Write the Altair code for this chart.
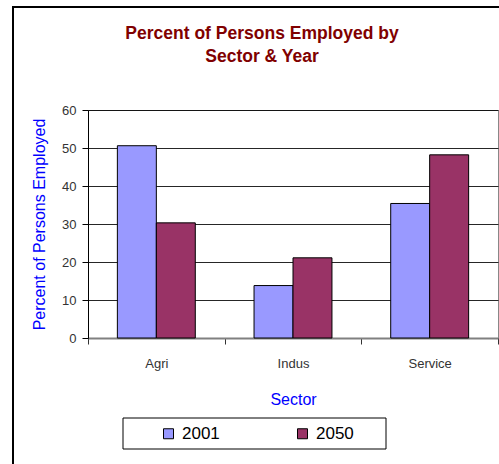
import altair as alt
import pandas as pd

sectors = ["Agri", "Indus", "Service"]
years = ["2001", "2050"]
pct_2001 = [50.6, 13.8, 35.4]
pct_2050 = [30.3, 21.1, 48.2]
colors = ["#9999FF", "#993366"]

rows = []
for s, a, b in zip(sectors, pct_2001, pct_2050):
    rows.append({"Sector": s, "Year": "2001", "Pct": a})
    rows.append({"Sector": s, "Year": "2050", "Pct": b})
df = pd.DataFrame(rows)

NARROW = "Liberation Sans Narrow, Arial Narrow, Liberation Sans"
SANS = "Liberation Sans, Arial"

bars = alt.Chart(df).mark_bar(stroke="black", strokeWidth=1, opacity=1).encode(
    x=alt.X("Sector:N", sort=sectors,
            scale=alt.Scale(paddingInner=0, paddingOuter=0),
            axis=alt.Axis(title="Sector", labelAngle=0, tickBand="extent",
                          labelFont=NARROW, labelFontSize=13, labelColor="#333333",
                          labelPadding=13, tickSize=6, tickColor="#333333",
                          domainColor="#808080", domainWidth=2,
                          titleFont=SANS, titleFontSize=16, titleFontWeight="normal",
                          titleColor="#0000FF", titlePadding=21, grid=False)),
    xOffset=alt.XOffset("Year:N", sort=years,
                        scale=alt.Scale(paddingInner=0, paddingOuter=0.754)),
    y=alt.Y("Pct:Q", scale=alt.Scale(domain=[0, 60]),
            axis=alt.Axis(title="Percent of Persons Employed", values=[0, 10, 20, 30, 40, 50, 60],
                          labelFont=NARROW, labelFontSize=13, labelColor="#333333",
                          labelPadding=6, tickSize=6, tickColor="#000000",
                          domainColor="#000000",
                          gridColor="#000000", gridOpacity=0.85,
                          titleFont=SANS, titleFontSize=16, titleFontWeight="normal",
                          titleColor="#0000FF", titlePadding=14)),
    color=alt.Color("Year:N", sort=years,
                    scale=alt.Scale(domain=years, range=colors),
                    legend=alt.Legend(title=None, orient="none", legendX=72, legendY=315,
                                      direction="horizontal", symbolType="square",
                                      symbolSize=100, symbolStrokeColor="black",
                                      symbolStrokeWidth=1, symbolOpacity=1,
                                      labelFont=SANS, labelFontSize=17, labelColor="black",
                                      labelOffset=5, columnPadding=74, padding=0)),
)

frame = alt.Chart(alt.Data(values=[{}])).mark_rect(
    fill=None, stroke="black", strokeWidth=2
).encode(x=alt.value(-75), y=alt.value(-103), x2=alt.value(440), y2=alt.value(400))

legend_box = alt.Chart(alt.Data(values=[{}])).mark_rect(
    fill=None, stroke="black", strokeWidth=1
).encode(x=alt.value(35), y=alt.value(308), x2=alt.value(298), y2=alt.value(339))

chart = alt.layer(frame, bars, legend_box).properties(
    width=410, height=228,
    padding={"left": 88, "top": 110, "right": 1, "bottom": 126},
    autosize="none",
    title=alt.TitleParams(["Percent of Persons Employed by", "Sector & Year"],
                          font=SANS, fontSize=17.5, fontWeight="bold", color="#800000",
                          anchor="middle", frame="group", dx=-31, offset=-59, lineHeight=23),
).configure_view(stroke="#888888")

chart.save("out.html", embed_options={"renderer": "svg", "actions": False})
